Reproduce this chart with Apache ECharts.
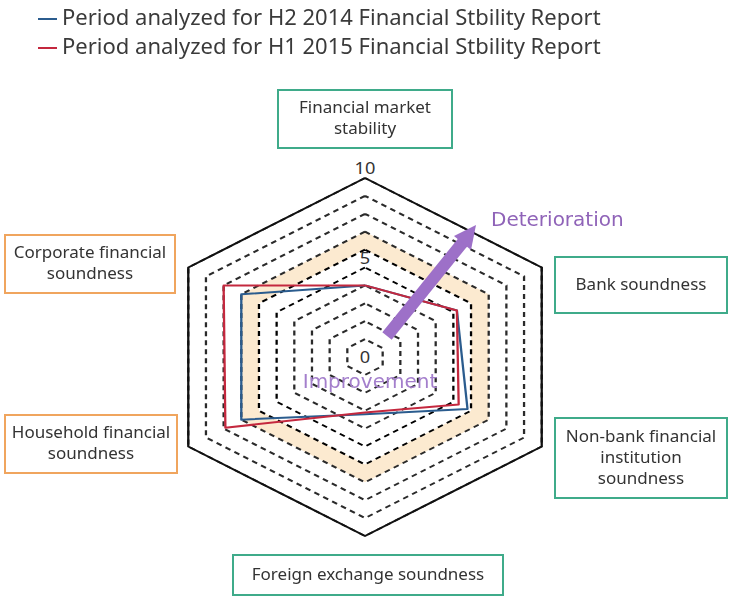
<!DOCTYPE html>
<html>
<head>
<meta charset="utf-8">
<script src="https://cdn.jsdelivr.net/npm/echarts@6/dist/echarts.min.js"></script>
<style>
  html, body { margin: 0; padding: 0; background: #fff; }
  #wrap { position: relative; width: 729px; height: 597px; overflow: hidden; }
  #radar, #notes { position: absolute; left: 0; top: 0; width: 729px; height: 597px; }
  /* the source picture has a wide hexagon, so the radar layer is stretched sideways */
  #radar { transform: scaleX(1.14); transform-origin: 365px 0; }
</style>
</head>
<body>
<div id="wrap">
  <div id="radar"></div>
  <div id="notes"></div>
</div>
<script>
// indicators, counter-clockwise from the top (ECharts radar order)
var indicators = [
  'Financial market\nstability',
  'Corporate financial\nsoundness',
  'Household financial\nsoundness',
  'Foreign exchange soundness',
  'Non-bank financial\ninstitution\nsoundness',
  'Bank soundness'
];
var seriesNames = [
  'Period analyzed for H2 2014 Financial Stbility Report',
  'Period analyzed for H1 2015 Financial Stbility Report'
];
var h2_2014 = [4.0, 7.0, 7.0, 3.2, 5.8, 5.2];
var h1_2015 = [4.0, 8.0, 7.9, 3.1, 5.3, 5.2];
var outerRing = [10, 10, 10, 10, 10, 10];
var tickLabels = [0, 5, 10];

var BLUE = '#2b5c8e';
var RED = '#c4283e';
var PURPLE = '#9d70c8';

// ---------- radar layer ----------
var ringLine = [], ringArea = [];
for (var i = 0; i <= 10; i++) {
  ringLine.push(i === 5 || i === 6 ? '#000' : '#2a2a2a');
  ringArea.push(i === 6 ? '#fcead0' : 'rgba(0,0,0,0)');
}

var radarChart = echarts.init(document.getElementById('radar'), null, { renderer: 'svg' });
radarChart.setOption({
  animation: false,
  radar: {
    center: [365, 357],
    radius: 179,
    startAngle: 90,
    shape: 'polygon',
    splitNumber: 10,
    axisName: { show: false },
    axisLine: { show: false },
    axisTick: { show: false },
    splitLine: { lineStyle: { color: ringLine, type: [5, 4], width: 2 } },
    splitArea: { show: true, areaStyle: { color: ringArea } },
    indicator: indicators.map(function (n, idx) {
      var ind = { name: n, min: 0, max: 10 };
      if (idx === 0) {
        ind.axisLabel = {
          show: true,
          margin: 0,
          align: 'center',
          verticalAlign: 'middle',
          lineHeight: 20,
          color: '#333',
          fontSize: 16,
          fontFamily: 'Noto Sans',
          formatter: function (v) {
            if (tickLabels.indexOf(v) < 0) return '';
            return v === 0 ? '0' : v + '\n';
          }
        };
      }
      return ind;
    })
  },
  series: [
    {
      type: 'radar',
      symbol: 'none',
      silent: true,
      lineStyle: { color: '#111', width: 2, type: 'solid' },
      data: [{ value: outerRing }]
    },
    {
      type: 'radar',
      symbol: 'none',
      data: [
        { name: seriesNames[0], value: h2_2014, lineStyle: { color: BLUE, width: 2 } },
        { name: seriesNames[1], value: h1_2015, lineStyle: { color: RED, width: 2 } }
      ]
    }
  ]
});

// ---------- labels, legend and arrow layer ----------
var boxes = [
  { x: 278, y: 90, w: 174, h: 58, c: '#3fab8a' },
  { x: 5, y: 235, w: 170, h: 58, c: '#f0a55e' },
  { x: 5, y: 415, w: 172, h: 58, c: '#f0a55e' },
  { x: 233, y: 555, w: 270, h: 40, c: '#3fab8a' },
  { x: 555, y: 418, w: 172, h: 80, c: '#3fab8a' },
  { x: 555, y: 257, w: 172, h: 56, c: '#3fab8a' }
];

var graphics = [];
boxes.forEach(function (b, idx) {
  graphics.push({
    type: 'rect',
    shape: { x: b.x, y: b.y, width: b.w, height: b.h },
    style: { fill: 'rgba(0,0,0,0)', stroke: b.c, lineWidth: 2 }
  });
  graphics.push({
    type: 'text',
    x: b.x + b.w / 2,
    y: b.y + b.h / 2,
    style: {
      text: indicators[idx],
      font: '17px "Noto Sans"',
      lineHeight: 21,
      fill: '#333',
      align: 'center',
      verticalAlign: 'middle'
    }
  });
});

[BLUE, RED].forEach(function (c, idx) {
  var y = 19 + idx * 29;
  graphics.push({
    type: 'line',
    shape: { x1: 38, y1: y, x2: 57, y2: y },
    style: { stroke: c, lineWidth: 2 }
  });
  graphics.push({
    type: 'text',
    x: 62,
    y: y,
    style: { text: seriesNames[idx], font: '22px "Noto Sans"', fill: '#3a3a3a', verticalAlign: 'middle' }
  });
});

// Deterioration arrow
graphics.push({
  type: 'line',
  shape: { x1: 387, y1: 336, x2: 463, y2: 242 },
  style: { stroke: PURPLE, lineWidth: 12 }
});
graphics.push({
  type: 'polygon',
  shape: { points: [[476, 225], [471, 250], [454, 236]] },
  style: { fill: PURPLE }
});
graphics.push({
  type: 'text',
  x: 491,
  y: 221,
  style: { text: 'Deterioration', font: '20px "DejaVu Sans"', fill: '#8f63b8', verticalAlign: 'middle' }
});
graphics.push({
  type: 'text',
  x: 370,
  y: 383,
  style: { text: 'Improvement', font: '20px "DejaVu Sans"', fill: '#a47fcc', align: 'center', verticalAlign: 'middle' }
});

var notes = echarts.init(document.getElementById('notes'));
notes.setOption({ animation: false, graphic: graphics });
</script>
</body>
</html>
